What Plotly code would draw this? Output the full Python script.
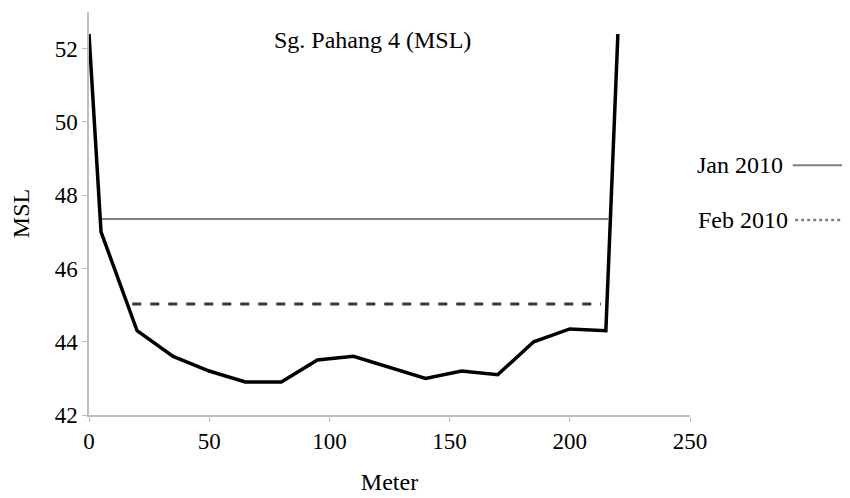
import plotly.graph_objects as go

# Data
bed_x = [0, 5, 20, 35, 50, 65, 80, 95, 110, 125, 140, 155, 170, 185, 200, 215, 220]
bed_y = [52.4, 47.0, 44.3, 43.6, 43.2, 42.9, 42.9, 43.5, 43.6, 43.3, 43.0, 43.2, 43.1, 44.0, 44.35, 44.3, 52.4]
jan_x = [5, 216]
jan_y = [47.35, 47.35]
feb_x = [18, 213]
feb_y = [45.03, 45.03]
x_ticks = [0, 50, 100, 150, 200, 250]
y_ticks = [42, 44, 46, 48, 50, 52]

FONT = "Liberation Serif"
SPAN = "<span style='font-family:Liberation Serif;font-size:23px'>{}</span>"

fig = go.Figure()
fig.add_trace(go.Scatter(x=jan_x, y=jan_y, mode="lines", name="Jan 2010",
                         line=dict(color="#7f7f7f", width=1.8), showlegend=False))
fig.add_trace(go.Scatter(x=feb_x, y=feb_y, mode="lines", name="Feb 2010",
                         line=dict(color="#3a3a3a", width=3, dash="dash"), showlegend=False))
fig.add_trace(go.Scatter(x=bed_x, y=bed_y, mode="lines", name="Bed",
                         line=dict(color="#000000", width=3.5), showlegend=False))

tickfont = dict(family=FONT, size=23, color="#000000")

fig.update_layout(
    width=842, height=490, plot_bgcolor="white", paper_bgcolor="white",
    font=dict(family=FONT, size=23, color="#000000"),
    margin=dict(l=81, r=160, t=4, b=83), showlegend=False,
    xaxis=dict(range=[0, 250], tickmode="array", tickvals=x_ticks,
               ticktext=[SPAN.format(v) for v in x_ticks], tickfont=tickfont,
               showgrid=False, zeroline=False, showline=True, linecolor="#bfbfbf",
               linewidth=1.5, ticks="outside", tickcolor="#bfbfbf", ticklen=5,
               automargin=False,
               title=dict(text="Meter", font=dict(family=FONT, size=24, color="#000000"),
                          standoff=20)),
    yaxis=dict(range=[42, 53], tickmode="array", tickvals=y_ticks,
               ticktext=[SPAN.format(v) for v in y_ticks], tickfont=tickfont,
               showgrid=False, zeroline=False, showline=True, linecolor="#bfbfbf",
               linewidth=1.5, ticks="outside", tickcolor="#bfbfbf", ticklen=5,
               automargin=False,
               title=dict(text="MSL", font=dict(family=FONT, size=24, color="#000000"),
                          standoff=24)),
)

# Legend drawn as text + line sample to the right (as in the reference)
fig.add_annotation(xref="paper", yref="paper", x=1.158, y=0.62, text="Jan 2010",
                   showarrow=False, xanchor="right", yanchor="middle",
                   font=dict(family=FONT, size=24, color="#000"))
fig.add_shape(type="line", xref="paper", yref="paper", x0=1.171, x1=1.253, y0=0.62, y1=0.62,
              line=dict(color="#7f7f7f", width=2))
fig.add_annotation(xref="paper", yref="paper", x=1.166, y=0.484, text="Feb 2010",
                   showarrow=False, xanchor="right", yanchor="middle",
                   font=dict(family=FONT, size=24, color="#000"))
fig.add_shape(type="line", xref="paper", yref="paper", x0=1.175, x1=1.258, y0=0.484, y1=0.484,
              line=dict(color="#7f7f7f", width=2.5, dash="dot"))

fig.add_annotation(xref="paper", yref="paper", x=0.472, y=0.93, text="Sg. Pahang 4 (MSL)",
                   showarrow=False, xanchor="center", yanchor="middle",
                   font=dict(family=FONT, size=24, color="#000"))

fig.write_html("out.html")
